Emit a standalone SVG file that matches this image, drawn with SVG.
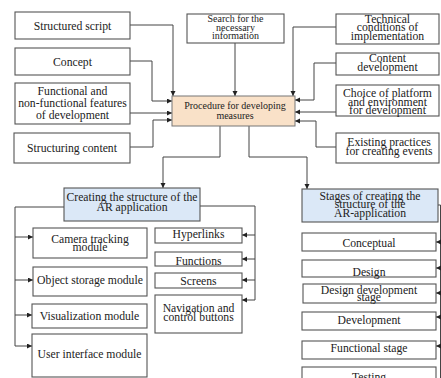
<svg xmlns="http://www.w3.org/2000/svg" width="441" height="378" viewBox="0 0 441 378">
<defs>
<style>
.b{fill:#fff;stroke:#555;stroke-width:1.1}
.p{fill:#f9e1c8;stroke:#777;stroke-width:1}
.u{fill:#dbe8f7;stroke:#555;stroke-width:1.1}
text{font-family:"Liberation Serif","Times New Roman",serif;font-size:11.7px;fill:#222;text-anchor:middle}
.s{font-size:10px}
.c{fill:none;stroke:#444;stroke-width:1}
</style>
<marker id="a" markerUnits="userSpaceOnUse" markerWidth="6" markerHeight="6" refX="5" refY="2.5" orient="auto"><path d="M0,0 L5,2.5 L0,5 z" fill="#222"/></marker>
</defs>
<rect width="441" height="378" fill="#fff"/>
<g id="connectors">
<path class="c" marker-end="url(#a)" d="M130,25 H173 V96"/>
<path class="c" marker-end="url(#a)" d="M130,61 H152 V101 H172"/>
<path class="c" marker-end="url(#a)" d="M130,113 H172"/>
<path class="c" marker-end="url(#a)" d="M130,147 H153 V120 H172"/>
<path class="c" marker-end="url(#a)" d="M235,43 V96"/>
<path class="c" marker-end="url(#a)" d="M336,27 H293 V96"/>
<path class="c" marker-end="url(#a)" d="M336,63 H314 V100 H295"/>
<path class="c" marker-end="url(#a)" d="M336,112 H295"/>
<path class="c" marker-end="url(#a)" d="M336,147 H316 V121 H295"/>
<path class="c" marker-end="url(#a)" d="M220,126 V157 H163 V188"/>
<path class="c" marker-end="url(#a)" d="M249,126 V157 H307 V189"/>
<path class="c" marker-end="url(#a)" d="M64,207 H15 V346 H32"/>
<path class="c" marker-end="url(#a)" d="M15,237 H33"/>
<path class="c" marker-end="url(#a)" d="M15,280 H33"/>
<path class="c" marker-end="url(#a)" d="M15,315 H32"/>
<path class="c" marker-end="url(#a)" d="M200,206 H255 V300 H242"/>
<path class="c" marker-end="url(#a)" d="M255,235 H242"/>
<path class="c" marker-end="url(#a)" d="M255,259 H242"/>
<path class="c" marker-end="url(#a)" d="M255,280 H242"/>
<path class="c" d="M438,205 H440.5 V378"/>
<path class="c" marker-end="url(#a)" d="M440.5,242 H436"/>
<path class="c" marker-end="url(#a)" d="M440.5,268 H436"/>
<path class="c" marker-end="url(#a)" d="M440.5,293 H436"/>
<path class="c" marker-end="url(#a)" d="M440.5,317 H436"/>
<path class="c" marker-end="url(#a)" d="M440.5,346 H436"/>
</g>
<g id="structured-script"><rect class="b" x="15" y="12" width="115" height="27"/><text x="72.5" y="29.5">Structured script</text></g>
<g id="concept"><rect class="b" x="15" y="48" width="115" height="27"/><text x="72.5" y="65.5">Concept</text></g>
<g id="functional"><rect class="b" x="15" y="83" width="115" height="41"/><text x="72.5" y="95">Functional and</text><text x="72.5" y="107">non-functional features</text><text x="72.5" y="119">of development</text></g>
<g id="structuring-content"><rect class="b" x="14" y="133" width="116" height="30"/><text x="72" y="152">Structuring content</text></g>
<g id="search"><rect class="b" x="187" y="14" width="97" height="29"/><text class="s" x="235.5" y="22">Search for the</text><text class="s" x="235.5" y="30.5">necessary</text><text class="s" x="235.5" y="39">information</text></g>
<g id="technical"><rect class="b" x="336" y="14" width="103" height="30"/><text x="387.5" y="22.5">Technical</text><text x="387.5" y="31">conditions of</text><text x="387.5" y="40">implementation</text></g>
<g id="content-development"><rect class="b" x="336" y="53" width="103" height="22"/><text x="387.5" y="62">Content</text><text x="387.5" y="71">development</text></g>
<g id="choice"><rect class="b" x="336" y="85" width="103" height="31"/><text x="387.5" y="97">Choice of platform</text><text x="387.5" y="105.5">and environment</text><text x="387.5" y="114">for development</text></g>
<g id="existing"><rect class="b" x="336" y="133" width="103" height="30"/><text x="389" y="146">Existing practices</text><text x="389" y="154.5">for creating events</text></g>
<g id="procedure"><rect class="p" x="172" y="96" width="123" height="30"/><text class="s" x="235" y="109">Procedure for developing</text><text class="s" x="235" y="118.5">measures</text></g>
<g id="creating"><rect class="u" x="64" y="188" width="136" height="33"/><text x="132" y="201">Creating the structure of the</text><text x="132" y="210.5">AR application</text></g>
<g id="stages"><rect class="u" x="302" y="189" width="136" height="33"/><text x="370" y="199.5">Stages of creating the</text><text x="370" y="208">structure of the</text><text x="370" y="217">AR-application</text></g>
<g id="camera"><rect class="b" x="33" y="228" width="114" height="30"/><text x="90" y="243">Camera tracking</text><text x="90" y="251">module</text></g>
<g id="object-storage"><rect class="b" x="33" y="267" width="114" height="29"/><text x="90" y="283.5">Object storage module</text></g>
<g id="visualization"><rect class="b" x="32" y="304" width="115" height="24"/><text x="89.5" y="319.5">Visualization module</text></g>
<g id="user-interface"><rect class="b" x="32" y="334" width="115" height="43"/><text x="89.5" y="358">User interface module</text></g>
<g id="hyperlinks"><rect class="b" x="155" y="228" width="87" height="15"/><text x="198.5" y="237.5">Hyperlinks</text></g>
<g id="functions"><rect class="b" x="155" y="252" width="87" height="14"/><text x="198.5" y="264.5">Functions</text></g>
<g id="screens"><rect class="b" x="155" y="273" width="87" height="15"/><text x="198.5" y="284.5">Screens</text></g>
<g id="navigation"><rect class="b" x="155" y="295" width="87" height="38"/><text x="198.5" y="312">Navigation and</text><text x="198.5" y="321">control buttons</text></g>
<g id="conceptual"><rect class="b" x="302" y="233" width="134" height="18"/><text x="369" y="247">Conceptual</text></g>
<g id="design"><rect class="b" x="302" y="260" width="134" height="17"/><text x="369" y="275.5">Design</text></g>
<g id="design-development"><rect class="b" x="303" y="284" width="133" height="19"/><text x="369" y="293.5">Design development</text><text x="369" y="301">stage</text></g>
<g id="development"><rect class="b" x="302" y="312" width="134" height="18"/><text x="369" y="323.5">Development</text></g>
<g id="functional-stage"><rect class="b" x="302" y="341" width="134" height="18"/><text x="369" y="352">Functional stage</text></g>
<g id="testing"><rect class="b" x="302" y="367" width="134" height="16"/><text x="369" y="381">Testing</text></g>
</svg>
